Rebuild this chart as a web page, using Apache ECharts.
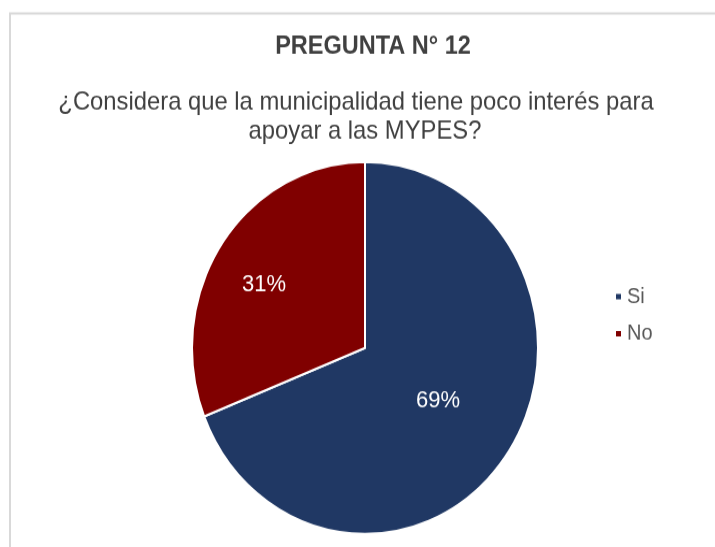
<!DOCTYPE html>
<html>
<head>
<meta charset="utf-8">
<script src="https://cdn.jsdelivr.net/npm/echarts@6/dist/echarts.min.js"></script>
<style>
  html, body { margin: 0; padding: 0; background: #fff; }
  #marco { width: 715px; height: 547px; overflow: hidden; }
  /* la imagen original esta estirada en vertical */
  #chart { width: 715px; height: 509px; transform: scaleY(1.0747); transform-origin: 0 0; }
</style>
</head>
<body>
<div id="marco"><div id="chart"></div></div>
<script>
  // datos de la pregunta
  var categorias = ['Si', 'No'];
  var valores = [69, 31];
  var colores = ['#203864', '#800000'];

  var chart = echarts.init(document.getElementById('chart'));

  // ajuste fino de las etiquetas dentro de cada sector
  var desplazamientos = [[-1, -1], [-27, -9]];

  var estiloPregunta = { fontFamily: 'Liberation Sans', fontSize: 23.8, fontWeight: 'normal', color: '#404040', lineHeight: 27 };

  chart.setOption({
    backgroundColor: '#ffffff',
    animation: false,
    graphic: [{
      type: 'rect',
      shape: { x: 10, y: 12.5, width: 720, height: 560 },
      style: { fill: 'none', stroke: '#d9d9d9', lineWidth: 2 }
    }],
    title: [{
      text: 'PREGUNTA N° 12',
      left: 368,
      top: 27,
      textAlign: 'center',
      textStyle: { fontFamily: 'Liberation Sans', fontSize: 23.5, fontWeight: 'bold', color: '#404040' }
    }, {
      text: '¿Considera que la municipalidad tiene poco interés para',
      left: 351,
      top: 77,
      textAlign: 'center',
      textStyle: estiloPregunta
    }, {
      text: 'apoyar a las MYPES?',
      left: 360,
      top: 104,
      textAlign: 'center',
      textStyle: estiloPregunta
    }],
    legend: {
      orient: 'vertical',
      left: 609,
      top: 261,
      icon: 'rect',
      itemWidth: 7,
      itemHeight: 7,
      itemGap: 14.5,
      data: categorias,
      textStyle: { fontFamily: 'Liberation Sans', fontSize: 20, color: '#595959' }
    },
    series: [{
      type: 'pie',
      center: [365, 323.8],
      radius: 173,
      startAngle: 90,
      clockwise: true,
      data: categorias.map(function (c, i) {
        return {
          name: c,
          value: valores[i],
          itemStyle: { color: colores[i] },
          label: { offset: desplazamientos[i] }
        };
      }),
      itemStyle: { borderColor: '#ffffff', borderWidth: 2 },
      label: {
        show: true,
        position: 'inside',
        formatter: '{c}%',
        color: '#ffffff',
        fontFamily: 'Liberation Sans',
        fontSize: 22
      },
      labelLine: { show: false },
      emphasis: { disabled: true }
    }]
  });
</script>
</body>
</html>
